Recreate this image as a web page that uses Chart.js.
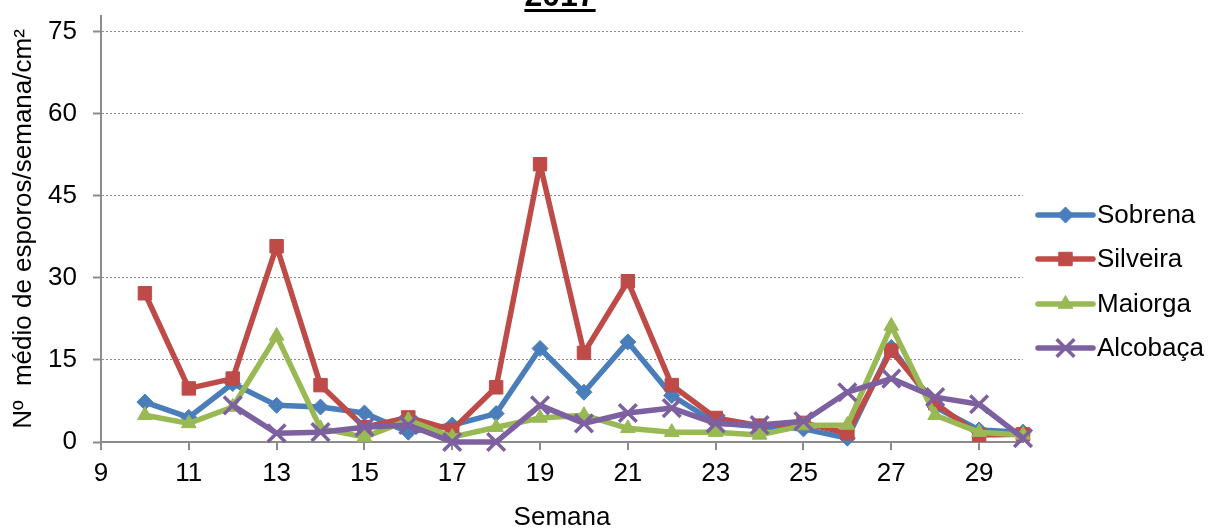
<!DOCTYPE html>
<html>
<head>
<meta charset="utf-8">
<script src="https://cdn.jsdelivr.net/npm/chart.js@4/dist/chart.umd.min.js"></script>
<style>
  html, body { margin: 0; padding: 0; background: #fff; }
  #wrap { width: 1208px; height: 532px; position: relative; }
</style>
</head>
<body>
<div id="wrap"><canvas id="esporos"></canvas></div>
<script>
const weeks = [10, 11, 12, 13, 14, 15, 16, 17, 18, 19, 20, 21, 22, 23, 24, 25, 26, 27, 28, 29, 30];
const sobrena = [7.3, 4.5, 10.7, 6.7, 6.4, 5.3, 1.8, 3.1, 5.2, 17.1, 9.1, 18.3, 8.5, 3.5, 2.8, 2.4, 0.7, 17.3, 6.4, 2.2, 1.8];
const silveira = [27.2, 9.8, 11.6, 35.8, 10.4, 2.7, 4.5, 2.2, 10.0, 50.8, 16.3, 29.4, 10.4, 4.4, 3.0, 3.5, 1.6, 16.7, 7.1, 1.3, 1.4];
const maiorga = [4.9, 3.4, 6.4, 19.4, 2.5, 0.9, 4.0, 0.9, 2.7, 4.4, 4.9, 2.5, 1.8, 1.8, 1.3, 3.0, 3.1, 21.2, 4.9, 1.8, 1.3];
const alcobaca = [null, null, 6.7, 1.6, 1.8, 2.7, 3.1, 0, 0, 6.7, 3.4, 5.3, 6.2, 3.4, 3.1, 3.8, 9.1, 11.6, 8.2, 6.9, 0.7];
const xTicks = [9, 11, 13, 15, 17, 19, 21, 23, 25, 27, 29];
const yTicks = [0, 15, 30, 45, 60, 75];

const blue = '#4A7EBB';
const red = '#BE4B48';
const green = '#98B954';
const purple = '#7D60A0';
const axisGray = '#8C8C8C';
const fontFamily = "'Liberation Sans', Arial, sans-serif";

Chart.defaults.font.family = fontFamily;
Chart.defaults.font.size = 26;
Chart.defaults.color = '#000';

const points = (vals) => weeks.map((w, i) => ({ x: w, y: vals[i] }));

function series(label, vals, color, style, radius, order) {
  return {
    label: label,
    data: points(vals),
    borderColor: color,
    backgroundColor: color,
    borderWidth: 5.5,
    borderJoinStyle: 'round',
    borderCapStyle: 'round',
    pointStyle: style,
    pointRadius: radius,
    pointBorderWidth: style === 'crossRot' ? 3.5 : 1,
    pointBackgroundColor: color,
    pointBorderColor: color,
    tension: 0,
    spanGaps: false,
    clip: false,
    order: order,
  };
}

// underlined title, partly cut at the top like the original
const titlePlugin = {
  id: 'underTitle',
  afterDraw(chart) {
    const c = chart.ctx;
    c.save();
    c.font = 'bold 32px ' + fontFamily;
    c.fillStyle = '#000';
    c.textAlign = 'center';
    c.textBaseline = 'alphabetic';
    const cx = 560;
    c.fillText('2017', cx, 6);
    const w = c.measureText('2017').width;
    c.fillRect(cx - w / 2, 9, w, 3);
    c.restore();
  },
};

// legend on the right: line with marker in the middle
const sideLegend = {
  id: 'sideLegend',
  afterDraw(chart) {
    const c = chart.ctx;
    const x0 = 1038, x1 = 1093, ys = [215, 259, 304, 348];
    chart.data.datasets.forEach((ds, i) => {
      const y = ys[i];
      c.save();
      c.strokeStyle = ds.borderColor;
      c.fillStyle = ds.borderColor;
      c.lineWidth = 5.5;
      c.lineCap = 'round';
      c.beginPath();
      c.moveTo(x0, y);
      c.lineTo(x1, y);
      c.stroke();
      c.lineWidth = ds.pointBorderWidth;
      c.lineCap = 'butt';
      Chart.helpers.drawPoint(c, {
        pointStyle: ds.pointStyle,
        radius: ds.pointRadius,
        rotation: 0,
        borderWidth: ds.pointBorderWidth,
      }, (x0 + x1) / 2, y);
      c.fillStyle = '#000';
      c.font = '26px ' + fontFamily;
      c.textAlign = 'left';
      c.textBaseline = 'middle';
      c.fillText(ds.label, 1097, y + 1);
      c.restore();
    });
  },
};

new Chart(document.getElementById('esporos'), {
  type: 'line',
  data: {
    datasets: [
      series('Sobrena', sobrena, blue, 'rectRot', 8, 3),
      series('Silveira', silveira, red, 'rect', 9.5, 2),
      series('Maiorga', maiorga, green, 'triangle', 8.5, 1),
      series('Alcobaça', alcobaca, purple, 'crossRot', 12.5, 0),
    ],
  },
  options: {
    responsive: true,
    maintainAspectRatio: false,
    animation: false,
    devicePixelRatio: 1,
    layout: {
      padding: { top: 14, right: 185, left: 0, bottom: 0 },
    },
    scales: {
      x: {
        type: 'linear',
        min: 9,
        max: 30,
        afterBuildTicks: (scale) => {
          scale.ticks = xTicks.map((v) => ({ value: v }));
        },
        afterFit: (scale) => {
          scale.height = 90;
          scale.paddingLeft = 0;
          scale.paddingRight = 0;
        },
        grid: {
          drawOnChartArea: false,
          drawTicks: true,
          tickLength: 8,
          color: axisGray,
          lineWidth: 2,
        },
        border: { color: axisGray, width: 2 },
        ticks: {
          padding: 8,
          maxRotation: 0,
          autoSkip: false,
        },
        title: {
          display: true,
          text: 'Semana',
          font: { size: 26, lineHeight: 1.1 },
          padding: { top: 0, bottom: 0 },
        },
      },
      y: {
        min: 0,
        max: 77.9,
        afterBuildTicks: (scale) => {
          scale.ticks = yTicks.map((v) => ({ value: v }));
        },
        afterFit: (scale) => {
          scale.width = 101;
          scale.paddingTop = 0;
          scale.paddingBottom = 0;
        },
        grid: {
          color: axisGray,
          lineWidth: 1,
          tickLength: 8,
          tickColor: axisGray,
          tickWidth: 2,
        },
        border: { color: axisGray, width: 2, dash: [2, 2] },
        ticks: {
          padding: 16,
        },
        title: {
          display: true,
          text: 'Nº  médio de esporos/semana/cm²',
          font: { size: 26, lineHeight: 1.2 },
          padding: { top: 8, bottom: 0 },
        },
      },
    },
    plugins: {
      legend: { display: false },
      tooltip: { enabled: false },
      title: { display: false },
    },
  },
  plugins: [titlePlugin, sideLegend],
});
</script>
</body>
</html>
